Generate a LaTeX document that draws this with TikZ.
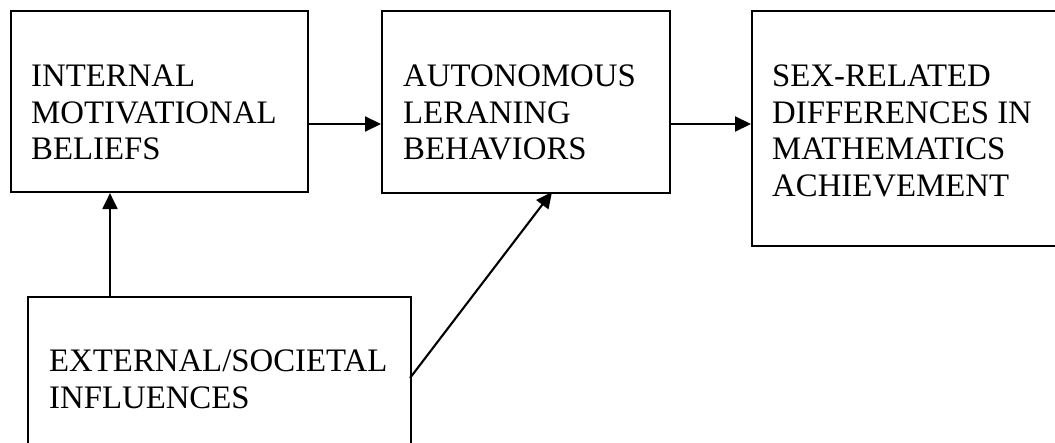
\documentclass[tikz,border=0pt]{standalone}
\usepackage{fontspec}
\setmainfont{Liberation Serif}
\usetikzlibrary{arrows.meta}

% stacked lines whose baseline is that of the first line
\newcommand{\stacklines}[1]{\vtop{\baselineskip=36.5pt\lineskip=0pt\halign{##\hfil\cr#1\crcr}}}

\begin{document}
\begin{tikzpicture}[x=1pt,y=-1pt,
  boxshape/.style={draw, line width=2.1pt, rectangle, inner sep=0pt},
  boxtext/.style={anchor=base west, inner sep=0pt, font=\fontsize{32.8}{36.5}\selectfont},
  link/.style={line width=2.1pt, -{Triangle[length=16pt,width=15pt]}}]
  \useasboundingbox (0,0) rectangle (1055,443);
  \clip (0,0) rectangle (1055,443);

  % boxes
  \node[boxshape, minimum width=297pt, minimum height=181pt, anchor=north west] (A) at (10,10) {};
  \node[boxshape, minimum width=288pt, minimum height=182pt, anchor=north west] (B) at (381,10) {};
  \node[boxshape, minimum width=320pt, minimum height=235pt, anchor=north west] (C) at (751,10) {};
  \node[boxshape, minimum width=383pt, minimum height=170pt, anchor=north west] (D) at (27,296) {};

  % texts
  \node[boxtext] (tA) at (31,86.7) {\stacklines{INTERNAL\cr MOTIVATIONAL\cr BELIEFS}};
  \node[boxtext] (tB) at (403,86.7) {\stacklines{AUTONOMOUS\cr LERANING\cr BEHAVIORS}};
  \node[boxtext] (tC) at (772,86.7) {\stacklines{SEX-RELATED\cr DIFFERENCES IN\cr MATHEMATICS\cr ACHIEVEMENT}};
  \node[boxtext] (tD) at (49,372) {\stacklines{EXTERNAL/SOCIETAL\cr INFLUENCES}};

  % connectors
  \coordinate (row) at (0,124);
  \coordinate (col) at (110,0);
  \coordinate (dOut) at (410,378);
  \coordinate (bIn) at (552,192);
  \draw[link] (A.east |- row) -- (B.west |- row);
  \draw[link] (B.east |- row) -- (C.west |- row);
  \draw[link] (D.north -| col) -- (A.south -| col);
  \draw[link] (dOut) -- (bIn);
\end{tikzpicture}
\end{document}
